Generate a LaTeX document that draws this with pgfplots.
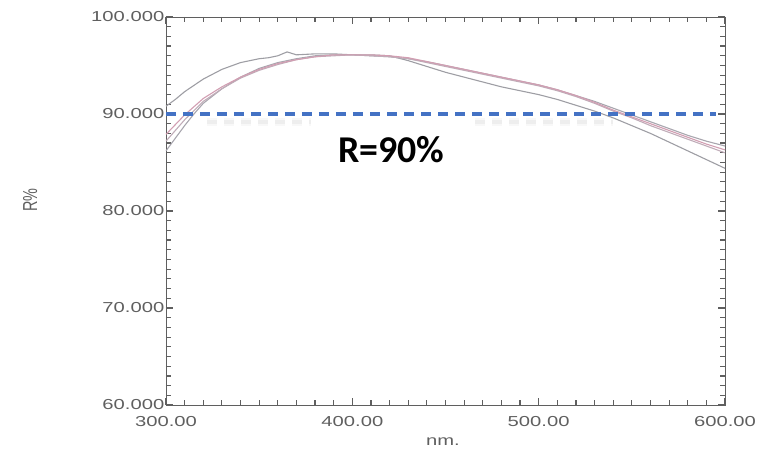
\documentclass[border=0pt]{standalone}
\usepackage{pgfplots}
\pgfplotsset{compat=1.18}
\usepackage{fontspec}
\setmainfont{Liberation Sans}
\newfontfamily\widefont[FakeStretch=1.4]{Liberation Sans}
\newfontfamily\calib{Carlito}
\definecolor{lblgray}{RGB}{95,95,95}
\definecolor{axgray}{RGB}{95,95,95}
\definecolor{cA}{RGB}{158,158,164}
\definecolor{cB}{RGB}{210,158,178}
\definecolor{cC}{RGB}{168,166,174}
\definecolor{cD}{RGB}{192,172,184}
\definecolor{dashblue}{RGB}{68,114,196}

\begin{document}
\begin{tikzpicture}
\begin{axis}[
  scale only axis, width=559bp, height=388bp,
  xmin=300, xmax=600, ymin=60, ymax=100,
  clip=false,
  xtick={300,400,500,600}, xticklabels={300.00,400.00,500.00,600.00},
  ytick={60,70,80,90,100}, yticklabels={60.000,70.000,80.000,90.000,100.000},
  minor x tick num=9, minor y tick num=9,
  tick align=inside, major tick length=7bp, minor tick length=5bp,
  axis line style={axgray, line width=0.9bp},
  every tick/.style={draw=axgray, line width=1.2bp},
  every minor tick/.style={draw=axgray, line width=1.2bp},
  tick label style={font=\widefont\fontsize{14.5}{15}\selectfont, text=lblgray},
  xticklabel style={inner sep=0pt, anchor=north, yshift=-11bp},
  yticklabel style={inner sep=1.5bp, anchor=east},
]
% curves
\addplot[cA, line width=1.1bp] coordinates {
 (300,90.8)(305,91.5)(310,92.3)(320,93.6)(330,94.6)(340,95.3)(350,95.7)(355,95.8)(360,96.0)(365,96.4)(370,96.1)(380,96.2)(390,96.2)(400,96.1)(410,96.1)(420,96.0)(430,95.5)(440,94.9)(450,94.3)(460,93.8)(470,93.3)(480,92.8)(490,92.4)(500,92.0)(510,91.5)(520,90.9)(530,90.3)(540,89.6)(550,88.8)(560,88.0)(570,87.1)(580,86.2)(590,85.3)(600,84.4)};
\addplot[cC, line width=1.1bp] coordinates {
 (300,86.2)(305,87.5)(310,88.8)(315,90.0)(320,91.1)(330,92.6)(340,93.8)(350,94.7)(360,95.3)(370,95.7)(380,96.0)(390,96.1)(400,96.1)(410,96.0)(420,95.9)(430,95.7)(440,95.4)(450,95.0)(460,94.6)(470,94.2)(480,93.8)(490,93.4)(500,93.0)(510,92.5)(520,91.9)(530,91.3)(540,90.6)(550,89.9)(560,89.2)(570,88.5)(580,87.8)(590,87.2)(600,86.7)};
\addplot[cD, line width=1.1bp] coordinates {
 (300,87.2)(305,88.3)(310,89.4)(320,91.3)(330,92.6)(340,93.7)(350,94.5)(360,95.1)(370,95.6)(380,95.9)(390,96.0)(400,96.1)(410,96.0)(420,95.9)(430,95.7)(440,95.3)(450,94.9)(460,94.5)(470,94.1)(480,93.7)(490,93.3)(500,92.9)(510,92.4)(520,91.8)(530,91.1)(540,90.3)(550,89.6)(560,88.8)(570,88.1)(580,87.4)(590,86.7)(600,86.0)};
\addplot[cB, line width=1.1bp] coordinates {
 (300,87.9)(305,88.9)(310,89.9)(320,91.6)(330,92.8)(340,93.8)(350,94.6)(360,95.2)(370,95.6)(380,95.9)(390,96.1)(400,96.1)(410,96.1)(420,96.0)(430,95.8)(440,95.4)(450,95.0)(460,94.6)(470,94.2)(480,93.8)(490,93.4)(500,93.0)(510,92.5)(520,91.9)(530,91.2)(540,90.4)(550,89.7)(560,89.0)(570,88.3)(580,87.6)(590,86.9)(600,86.3)};
% blurred shadow of the dashed line
\addplot[black!50, opacity=0.06, line width=8bp, dash pattern=on 10bp off 7bp] coordinates {(322,89.2)(378,89.2)};
\addplot[black!50, opacity=0.08, line width=4bp, dash pattern=on 10bp off 7bp] coordinates {(322,89.2)(378,89.2)};
\addplot[black!50, opacity=0.06, line width=8bp, dash pattern=on 10bp off 7bp] coordinates {(466,89.2)(540,89.2)};
\addplot[black!50, opacity=0.08, line width=4bp, dash pattern=on 10bp off 7bp] coordinates {(466,89.2)(540,89.2)};
% R = 90 % line
\addplot[dashblue, line width=3.3bp, dash pattern=on 10bp off 7bp] coordinates {(300,90)(595,90)};
\node[font=\calib\bfseries\fontsize{38}{40}\selectfont, anchor=base, inner sep=0pt] at (axis cs:421,85.05) {R=90\%};
\node[font=\widefont\fontsize{14.5}{15}\selectfont, text=lblgray] at (axis description cs:0.4955,-0.095) {nm.};
\node[font=\fontsize{14.5}{15}\selectfont, text=lblgray, rotate=90] at (axis description cs:-0.243,0.528) {\scalebox{1}[1.4]{R\%}};
\end{axis}
\pgfresetboundingbox
\path[use as bounding box] (-166bp,-45bp) rectangle (599bp,405bp);
\end{tikzpicture}
\end{document}
